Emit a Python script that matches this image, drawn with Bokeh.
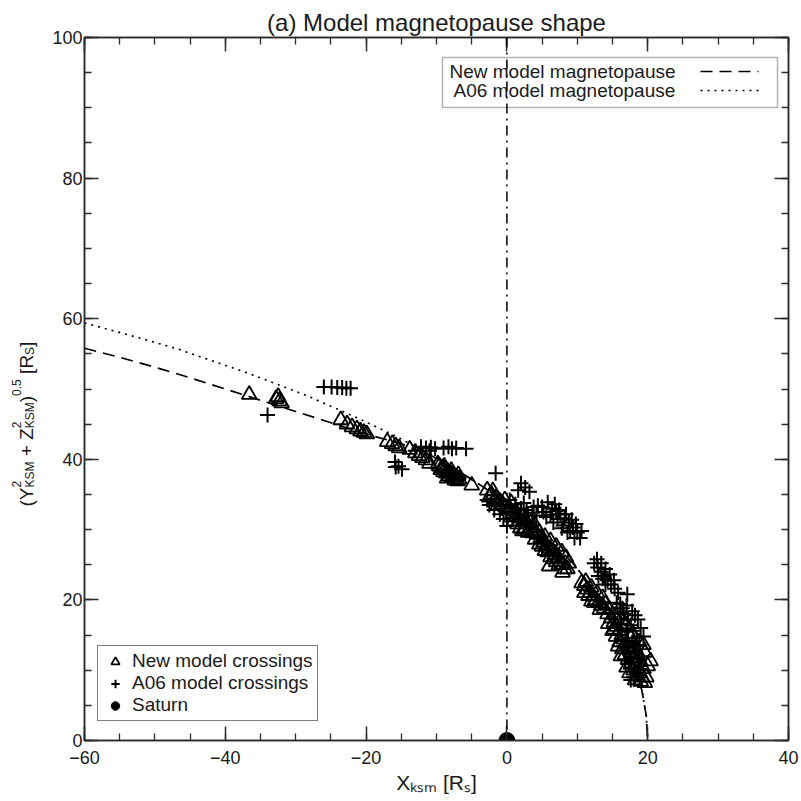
from bokeh.plotting import figure
from bokeh.layouts import row
from bokeh.models import (Range1d, LinearAxis, SingleIntervalTicker, Label, Span,
                          BoxAnnotation, Legend, LegendItem)
from bokeh.embed import file_html
from bokeh.resources import INLINE

# ---------------- data ----------------
# New model magnetopause (dashed)
new_mp_x = [-60.0, -55.0, -50.0, -45.0, -40.0, -35.0, -30.0, -25.0, -20.0, -15.0, -10.9,
            -6.7, -3.1, 0.0, 5.2, 9.2, 12.4, 14.9, 16.8, 18.25, 19.2, 19.8, 20.0]
new_mp_y = [55.8, 54.5, 53.1, 51.6, 50.0, 48.4, 46.8, 45.2, 43.6, 42.2, 40.6,
            38.2, 35.9, 33.6, 29.4, 25.4, 21.5, 17.8, 14.1, 10.5, 7.0, 3.5, 0.0]
# A06 model magnetopause (dotted)
a06_mp_x = [-60.0, -51.6, -46.8, -36.6, -28.3, -21.5, -15.8, -10.9, -6.7, -3.1, 0.0,
            5.2, 9.2, 12.4, 14.9, 16.8, 18.25, 19.2, 19.8, 20.0]
a06_mp_y = [59.4, 57.1, 55.7, 52.2, 49.0, 46.0, 43.3, 40.7, 38.2, 35.9, 33.6,
            29.4, 25.4, 21.5, 17.8, 14.1, 10.5, 7.0, 3.5, 0.0]

# New model crossings (triangles)
new_cross_x = [-36.6, -32.8, -32.3, -32.0, -32.5,
               -23.6, -22.7, -22.0, -21.3, -20.8, -20.3, -19.9,
               -17.0, -16.3, -15.8, -15.3,
               -13.8, -13.0, -12.5, -12.0, -11.5, -11.0,
               -9.6, -9.2, -8.8, -8.4, -8.0, -7.6, -7.2, -6.8, -9.0, -8.2, -7.4,
               -9.8, -9.4, -8.6, -7.8, -7.0, -8.9, -7.9, -6.9, -8.5,
               -5.0,
               -2.8, -2.2, -1.6, -1.0, -0.6, -1.8, -0.2, 0.3,
               -2.5, -1.3, -0.3, 0.6, -2.0,
               0.8, 1.3, 1.8, 2.3, 2.8, 3.3, 3.8, 1.5, 2.5, 3.0, 1.0,
               0.6, 1.2, 2.0, 2.6, 3.4, 4.0, 1.9, 3.6, 2.2,
               4.3, 4.8, 5.2, 5.6, 6.0, 6.4, 6.8, 7.2, 7.6, 8.0, 5.0, 5.8, 6.6, 7.4, 8.2, 7.9,
               4.0, 4.6, 5.4, 6.2, 7.0, 7.8, 8.4, 8.8, 4.6, 5.4, 6.2, 7.0, 8.6, 6.0,
               11.0, 11.4, 11.8, 12.2, 12.6, 13.0, 13.4, 13.8, 11.6, 12.4,
               10.6, 11.2, 12.0, 12.8, 13.6, 14.0, 11.0, 12.0, 13.2,
               14.3, 14.8, 15.2, 15.6, 16.0, 16.3, 16.6, 17.0, 17.3, 17.6, 18.0, 18.3, 18.6,
               18.9, 19.2, 15.0, 15.5, 16.0, 16.4, 16.8, 17.2, 17.6, 18.0, 18.4, 19.0,
               20.4, 19.6, 17.8, 16.8, 18.8,
               14.6, 15.4, 16.2, 17.0, 17.6, 18.2, 18.6, 19.0, 19.4, 19.8, 14.4, 15.2,
               15.8, 16.2, 17.0, 17.4, 18.2, 19.6, 20.0, 19.4]
new_cross_y = [49.2, 48.6, 48.3, 48.0, 48.9,
               45.6, 45.0, 44.6, 44.3, 44.0, 43.8, 43.6,
               42.5, 42.2, 41.9, 41.6,
               41.4, 40.9, 40.5, 40.2, 39.9, 39.4,
               39.0, 38.8, 38.6, 38.3, 38.0, 37.8, 37.5, 37.2, 38.2, 37.6, 37.0,
               39.3, 38.5, 38.0, 37.4, 36.9, 39.0, 38.4, 37.8, 37.3,
               36.3,
               35.6, 35.0, 34.5, 34.0, 33.6, 34.0, 33.2, 33.0,
               34.6, 33.5, 34.2, 33.8, 35.5,
               32.3, 31.9, 31.6, 31.1, 30.8, 30.3, 29.9, 30.8, 30.0, 29.6, 31.2,
               31.8, 32.6, 32.0, 31.4, 31.0, 30.6, 30.2, 29.5, 29.8,
               29.3, 28.8, 28.2, 27.8, 27.3, 26.9, 26.4, 26.0, 25.5, 25.0, 27.6, 26.8, 25.8, 25.0, 24.4, 23.9,
               28.6, 29.6, 29.0, 28.4, 27.6, 26.8, 26.0, 25.2, 27.9, 27.0, 26.1, 25.4, 24.4, 24.8,
               22.0, 21.5, 21.0, 20.5, 20.0, 19.6, 19.2, 18.8, 20.6, 19.6,
               22.4, 22.6, 21.8, 21.0, 20.3, 19.4, 21.0, 19.8, 18.6,
               18.0, 17.4, 16.8, 16.2, 15.6, 15.0, 14.4, 13.8, 13.2, 12.5, 11.8, 11.0, 10.3,
               9.6, 9.0, 15.6, 14.8, 14.0, 13.0, 12.2, 11.5, 10.8, 10.0, 9.2, 8.4,
               11.3, 12.5, 15.2, 16.6, 14.0,
               18.6, 17.8, 17.2, 16.4, 14.6, 13.2, 12.4, 11.2, 10.2, 9.0, 16.6, 15.8,
               13.4, 12.0, 10.4, 9.6, 8.6, 8.2, 10.6, 13.6]

# A06 model crossings (plus signs)
a06_cross_x = [-34.0,
               -26.0, -24.9, -24.1, -23.4, -22.8, -22.2,
               -15.9, -15.4, -14.9, -15.8,
               -12.2, -11.5, -10.8, -10.2, -9.0, -8.3, -7.8, -7.2, -5.8, -13.0, -11.0,
               -1.6,
               -2.5, -1.8, -1.0, -0.5, 0.0, -1.5, 0.5, -2.8, 0.8, -0.8, 0.4,
               2.0, 2.6, 3.2, 1.6,
               1.2, 2.0, 2.8, 3.6, 4.2, 1.6, 2.4, 3.0, 3.8, 4.4,
               5.8, 6.4, 7.0, 7.6, 8.2, 8.8, 9.4, 10.0, 10.4, 6.2, 7.2, 8.0, 9.0, 5.2, 6.6,
               5.0, 5.6, 6.8, 7.4, 8.4, 9.2, 9.8, 10.6, 8.6, 7.8, 9.6,
               12.4, 12.9, 13.4, 13.8, 14.3, 14.8, 15.3, 15.8, 13.0, 14.0,
               12.8, 13.4, 14.0, 14.6, 15.2, 13.6,
               17.1, 16.1, 16.0,
               16.6, 17.2, 17.6, 18.0, 18.4, 17.0, 17.8, 18.2, 18.6, 17.4, 16.6, 19.0,
               18.8, 18.0, 17.6, 19.2, 16.2, 18.6,
               15.6, 16.4, 17.8, 18.2, 17.2, 18.8, 16.8, 17.6, 18.4, 19.4, 15.8, 17.0]
a06_cross_y = [46.3,
               50.3, 50.3, 50.2, 50.2, 50.1, 50.1,
               39.6, 39.0, 38.6, 38.9,
               41.8, 41.6, 41.7, 41.5, 41.6, 41.8, 41.5, 41.6, 41.5, 41.2, 41.2,
               38.0,
               33.5, 32.8, 32.2, 31.5, 30.5, 33.8, 32.6, 34.2, 31.6, 33.0, 34.2,
               36.6, 36.0, 35.4, 35.6,
               33.6, 33.0, 32.8, 32.4, 32.0, 32.2, 33.8, 32.0, 33.2, 33.4,
               33.9, 33.0, 32.6, 32.2, 31.6, 31.0, 30.3, 29.6, 28.8, 32.1, 31.5, 30.6, 29.8, 32.5, 31.0,
               33.2, 31.8, 33.6, 32.8, 32.2, 31.4, 30.8, 29.8, 29.6, 30.2, 28.8,
               25.2, 24.6, 24.0, 23.4, 22.8, 22.2, 21.6, 21.0, 23.4, 22.2,
               25.8, 25.2, 24.4, 23.6, 22.8, 23.0,
               20.8, 19.4, 18.2,
               18.0, 17.2, 16.4, 15.6, 14.6, 15.6, 14.0, 12.8, 11.6, 12.2, 13.4, 16.0,
               10.2, 9.0, 8.6, 12.0, 16.6, 17.2,
               19.6, 18.8, 18.4, 17.8, 14.2, 13.6, 11.4, 10.4, 9.6, 14.8, 15.0, 19.2]

saturn_x = [0.0]
saturn_y = [0.0]

x_limits = (-60, 40)
y_limits = (0, 100)
tick_step = 20
title_text = "(a) Model magnetopause shape"
x_label_text = "X\u2096\u209b\u2098 [R\u209b]"
legend_line_labels = ["New model magnetopause", "A06 model magnetopause"]
legend_marker_labels = ["New model crossings", "A06 model crossings", "Saturn"]

# ---------------- layout (page pixels) ----------------
FL, FR, FT, FB = 84, 788, 37, 740          # frame edges on the page
YLAB_W = 40                                # left strip for the y label
PAGE_H = 800
MAIN_TOP, MAIN_BOTTOM, MAIN_RIGHT = FT, PAGE_H - FB, 12

def xd(px):
    return x_limits[0] + (px - FL) * (x_limits[1] - x_limits[0]) / (FR - FL)
def yd(py):
    return y_limits[0] + (FB - py) * (y_limits[1] - y_limits[0]) / (FB - FT)

FONT = "Liberation Sans"
AX = "#2a2a2a"
TXT = "#1a1a1a"

p = figure(frame_width=FR - FL, frame_height=FB - FT, title=title_text,
           min_border_left=FL - YLAB_W, min_border_right=MAIN_RIGHT,
           min_border_top=MAIN_TOP, min_border_bottom=MAIN_BOTTOM,
           x_range=Range1d(*x_limits), y_range=Range1d(*y_limits),
           output_backend="svg", toolbar_location=None)
p.title.text_font = FONT
p.title.text_font_size = "24px"
p.title.text_font_style = "normal"
p.title.text_color = TXT
p.title.align = "center"
p.title.standoff = 4
p.background_fill_color = "white"
p.border_fill_color = "white"
p.outline_line_color = AX
p.outline_line_width = 1.5
p.xgrid.visible = False
p.ygrid.visible = False

def style_axis(ax, show_labels=True, standoff=5):
    ax.ticker = SingleIntervalTicker(interval=tick_step, num_minor_ticks=4)
    ax.major_tick_in = 14
    ax.major_tick_out = 0
    ax.minor_tick_in = 7
    ax.minor_tick_out = 0
    ax.axis_line_color = AX
    ax.axis_line_width = 1.5
    ax.major_tick_line_color = AX
    ax.major_tick_line_width = 1.5
    ax.minor_tick_line_color = AX
    ax.minor_tick_line_width = 1.3
    ax.major_label_text_font = FONT
    ax.major_label_text_font_size = "18px"
    ax.major_label_text_color = TXT
    ax.major_label_standoff = standoff
    ax.axis_label = None
    if not show_labels:
        ax.major_label_overrides = {v: "" for v in range(-100, 101, tick_step)}
        ax.major_label_text_font_size = "1px"
        ax.major_label_standoff = 0

style_axis(p.xaxis[0], True, 10)
style_axis(p.yaxis[0], True, 2)
xa = p.xaxis[0]
xa.axis_label = x_label_text
xa.axis_label_text_font = FONT
xa.axis_label_text_font_size = "21px"
xa.axis_label_text_font_style = "normal"
xa.axis_label_text_color = TXT
xa.axis_label_standoff = 4

top_ax = LinearAxis()
right_ax = LinearAxis()
style_axis(top_ax, False)
style_axis(right_ax, False)
p.add_layout(top_ax, "above")
p.add_layout(right_ax, "right")

# ---------------- lines ----------------
p.line(new_mp_x, new_mp_y, line_color="black", line_width=1.7, line_dash="12 7")
p.line(a06_mp_x, a06_mp_y, line_color="black", line_width=1.7, line_dash="2 5")
p.add_layout(Span(location=saturn_x[0], dimension="height", line_color="black",
                  line_width=1.5, line_dash="10 5 2 5"))

# ---------------- markers ----------------
r_tri = p.scatter(new_cross_x, new_cross_y, marker="triangle", size=15,
                  fill_alpha=0, line_color="black", line_width=1.8)
r_plus = p.scatter(a06_cross_x, a06_cross_y, marker="cross", size=15,
                   line_color="black", line_width=2.0)
r_sat = p.scatter(saturn_x, saturn_y, marker="circle", size=16,
                  fill_color="black", line_color="black")

legend = Legend(items=[LegendItem(label=legend_marker_labels[0], renderers=[r_tri]),
                       LegendItem(label=legend_marker_labels[1], renderers=[r_plus]),
                       LegendItem(label=legend_marker_labels[2], renderers=[r_sat])],
                location=(13, 19))
legend.label_text_font = FONT
legend.label_text_font_size = "19px"
legend.label_text_color = TXT
legend.label_height = 21
legend.label_standoff = 4
legend.glyph_width = 26
legend.glyph_height = 21
legend.spacing = 0
legend.padding = 4
legend.margin = 0
legend.border_line_color = "black"
legend.border_line_width = 1.5
legend.background_fill_color = "white"
legend.background_fill_alpha = 1.0
p.add_layout(legend)

# ---------------- top-right line legend ----------------
p.add_layout(BoxAnnotation(left=xd(442), right=xd(777), top=yd(57), bottom=yd(107),
                           fill_alpha=0, line_color="black", line_width=1.5))
p.line([xd(700), xd(758)], [yd(71), yd(71)], line_color="black", line_width=1.7, line_dash="12 7")
p.line([xd(700), xd(758)], [yd(90), yd(90)], line_color="black", line_width=1.7, line_dash="2 5")
for txt, lx, ly in [(legend_line_labels[0], 449, 71), (legend_line_labels[1], 453, 90)]:
    p.add_layout(Label(x=xd(lx), y=yd(ly), text=txt, text_font=FONT, text_font_size="19px",
                       text_color=TXT, text_align="left", text_baseline="middle"))

# ---------------- y label strip (rotated text pieces with sub/superscripts) ----------------
y_fig = figure(frame_width=YLAB_W, frame_height=PAGE_H, title=None,
               x_range=Range1d(0, YLAB_W), y_range=Range1d(0, PAGE_H),
               x_axis_type=None, y_axis_type=None, min_border=0,
               output_backend="svg", toolbar_location=None)
y_fig.outline_line_color = None
y_fig.background_fill_color = "white"
y_fig.border_fill_color = "white"
y_fig.xgrid.visible = False
y_fig.ygrid.visible = False

A = 1.5707963267948966
MC, SUPC, SUBC = 26, 16, 29
for txt, px, py, sz in [("(", MC, 469, 19), ("Y", MC, 462.7, 19), ("2", SUPC, 450, 12),
                        ("KSM", SUBC, 450, 12), ("+", MC, 418.7, 19), ("Z", MC, 402.3, 19),
                        ("2", SUPC, 390.7, 12), ("KSM", SUBC, 390.7, 12), (")", MC, 364.7, 19),
                        ("0.5", SUPC, 358.4, 12), ("[R", MC, 336.4, 19), ("S", SUBC, 317.4, 12),
                        ("]", MC, 309.4, 19)]:
    y_fig.add_layout(Label(x=px, y=PAGE_H - py, text=txt, text_font=FONT,
                           text_font_size=f"{sz}px", text_color=TXT, text_align="left",
                           text_baseline="middle", angle=A))

layout = row(y_fig, p)
open("out.html", "w").write(file_html(layout, INLINE))
